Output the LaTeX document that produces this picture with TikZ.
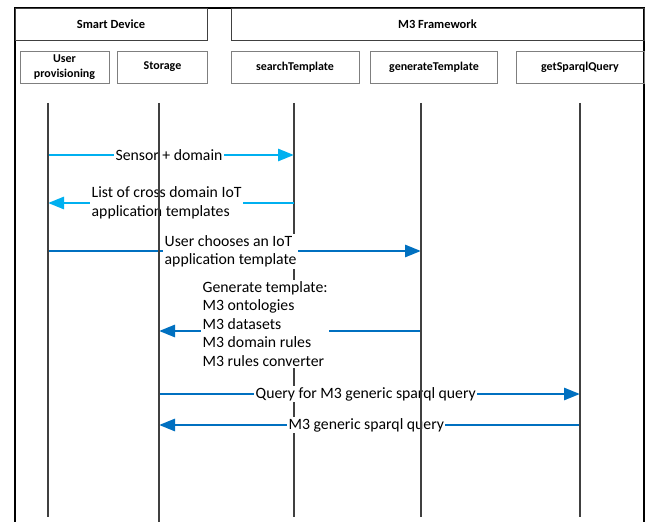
\documentclass[tikz,border=0pt]{standalone}
\usepackage{fontspec}
\setmainfont{Carlito}
\usetikzlibrary{arrows.meta}
\definecolor{lightblue}{HTML}{00B0F0}
\definecolor{darkblue}{HTML}{0070C0}
\definecolor{boxgray}{HTML}{7F7F7F}
\tikzset{
  hdrbox/.style={draw=black!75, line width=0.9bp, minimum height=32bp, inner sep=0pt,
    font=\fontsize{12.5}{14}\selectfont\bfseries},
  objbox/.style={draw=boxgray, line width=0.9bp, minimum height=32bp, inner sep=0pt,
    align=center, font=\fontsize{12}{15}\selectfont\bfseries},
  lifeline/.style={draw=black!75, line width=1.1bp},
  msglight/.style={draw=lightblue, line width=2.8bp, -{Triangle[length=16bp,width=12bp]}},
  msgdark/.style={draw=darkblue, line width=2.8bp, -{Triangle[length=16bp,width=12bp]}},
  msglabel/.style={fill=white, inner sep=1.5bp, align=left,
    font=\fontsize{15.8}{18.6}\selectfont},
}
\begin{document}
\begin{tikzpicture}[x=1bp, y=-1bp]
  \useasboundingbox (0,0) rectangle (653,522);
  % frame
  \draw [black, line width=2bp] (15,522) -- (15,8) -- (644,8) -- (644,522);
  \node [hdrbox, minimum width=192bp] (smartdev) at (111,24) {Smart Device};
  \node [hdrbox, minimum width=413bp] (framework) at (437.5,24) {M3 Framework};
  % objects
  \node [objbox, minimum width=89bp] (user) at (64.5,67) {User\\provisioning};
  \node [objbox, minimum width=90bp] (storage) at (162.5,67) {Storage};
  \node [objbox, minimum width=128bp] (search) at (295,67) {searchTemplate};
  \node [objbox, minimum width=127bp] (generate) at (434,67) {generateTemplate};
  \node [objbox, minimum width=128bp] (sparql) at (580,67) {getSparqlQuery};
  % lifeline ends
  \coordinate (usertop) at (48,103);     \coordinate (userbot) at (48,517);
  \coordinate (storagetop) at (159,103); \coordinate (storagebot) at (159,522);
  \coordinate (searchtop) at (294,103);  \coordinate (searchbot) at (294,517);
  \coordinate (generatetop) at (421,103); \coordinate (generatebot) at (421,517);
  \coordinate (sparqltop) at (580,103);  \coordinate (sparqlbot) at (580,517);
  \draw [lifeline] (searchtop) -- (searchbot);
  % messages
  \coordinate (m1a) at (48,155);  \coordinate (m1b) at (294,155);
  \coordinate (m2a) at (294,203); \coordinate (m2b) at (48,203);
  \coordinate (m3a) at (48,251);  \coordinate (m3b) at (421,251);
  \coordinate (m4a) at (421,331); \coordinate (m4b) at (159,331);
  \coordinate (m5a) at (159,394); \coordinate (m5b) at (580,394);
  \coordinate (m6a) at (580,425); \coordinate (m6b) at (159,425);
  \draw [msglight] (m1a) -- (m1b);
  \draw [msglight] (m2a) -- (m2b);
  \draw [msgdark] (m3a) -- (m3b);
  \draw [msgdark] (m4a) -- (m4b);
  \draw [msgdark] (m5a) -- (m5b);
  \draw [msgdark] (m6a) -- (m6b);
  \node [msglabel] (lbl1) at (169,155) {Sensor + domain};
  \node [msglabel, anchor=west] (lbl2) at (90,203) {List of cross domain IoT\\application templates};
  \node [msglabel, anchor=west] (lbl3) at (163,251.5) {User chooses an IoT\\application template};
  \node [msglabel, anchor=west] (lbl4) at (201,324) {Generate template:\\M3 ontologies\\M3 datasets\\M3 domain rules\\M3 rules converter};
  \node [msglabel, anchor=west] (lbl5) at (254,394) {Query for M3 generic sparql query};
  \node [msglabel, anchor=west] (lbl6) at (287,425) {M3 generic sparql query};
  \draw [lifeline] (usertop) -- (userbot);
  \draw [lifeline] (storagetop) -- (storagebot);
  \draw [lifeline] (generatetop) -- (generatebot);
  \draw [lifeline] (sparqltop) -- (sparqlbot);
\end{tikzpicture}
\end{document}
